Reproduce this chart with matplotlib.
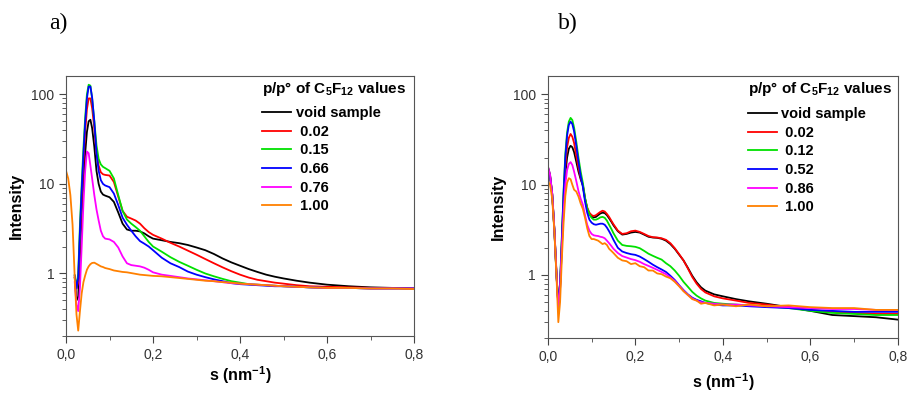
import numpy as np
import matplotlib
matplotlib.use("Agg")
import matplotlib.pyplot as plt

plt.rcParams["font.family"] = ["Liberation Sans", "DejaVu Sans"]
plt.rcParams["mathtext.fontset"] = "custom"
plt.rcParams["mathtext.rm"] = "Liberation Sans"
plt.rcParams["mathtext.bf"] = "Liberation Sans:bold"

# ---- panel a) data (s in nm^-1, intensity) ----
s_a = [0.0, 0.005, 0.01, 0.015, 0.02, 0.024, 0.028, 0.032, 0.036, 0.04, 0.044, 0.048,
       0.052, 0.056, 0.06, 0.065, 0.07, 0.075, 0.08, 0.085, 0.09, 0.1, 0.11, 0.12, 0.13,
       0.14, 0.15, 0.16, 0.17, 0.18, 0.19, 0.2, 0.22, 0.24, 0.26, 0.28, 0.3, 0.32, 0.34,
       0.36, 0.38, 0.4, 0.42, 0.44, 0.46, 0.48, 0.5, 0.53, 0.56, 0.6, 0.65, 0.7, 0.75, 0.8]
nan = np.nan
a_void = [nan, nan, nan, nan, 0.9, 0.5, 0.55, 1.6, 4.5, 10, 22, 38,
          50, 52, 42, 26, 14, 10, 8.2, 7.6, 7.4, 7.1, 6.3, 4.8, 3.6,
          3.1, 3.0, 3.0, 2.95, 2.8, 2.6, 2.45, 2.35, 2.25, 2.18, 2.08, 1.95, 1.82, 1.65,
          1.47, 1.33, 1.22, 1.12, 1.04, 0.97, 0.92, 0.88, 0.83, 0.79, 0.75, 0.72, 0.70, 0.69, 0.68]
a_002 = [nan, nan, nan, nan, 0.9, 0.68, 0.8, 2.5, 7, 17, 38, 68,
         90, 90, 70, 42, 22, 16, 13.5, 12.8, 12.6, 12.4, 10.5, 7.2, 5.0,
         4.3, 4.1, 3.9, 3.6, 3.2, 2.9, 2.7, 2.45, 2.2, 2.0, 1.8, 1.62, 1.45, 1.30,
         1.17, 1.06, 0.97, 0.9, 0.85, 0.82, 0.79, 0.77, 0.74, 0.72, 0.71, 0.70, 0.69, 0.69, 0.68]
a_015 = [nan, nan, nan, nan, 0.95, 0.7, 1.0, 3.5, 10, 25, 55, 100,
         128, 125, 90, 50, 27, 19, 16.5, 15.5, 15, 14, 11.5, 7.5, 5.0,
         4.0, 3.6, 3.3, 3.0, 2.6, 2.25, 2.0, 1.75, 1.52, 1.35, 1.22, 1.1, 1.0, 0.93,
         0.87, 0.82, 0.79, 0.76, 0.75, 0.74, 0.73, 0.72, 0.71, 0.70, 0.69, 0.69, 0.68, 0.68, 0.68]
a_066 = [nan, nan, nan, nan, 0.95, 0.68, 0.9, 3.0, 8.5, 21, 48, 90,
         122, 122, 92, 50, 22, 14, 11, 10, 9.6, 9.2, 7.8, 5.8, 4.2,
         3.5, 3.0, 2.6, 2.3, 2.15, 2.0, 1.82, 1.5, 1.3, 1.18, 1.05, 0.97, 0.91, 0.86,
         0.82, 0.78, 0.76, 0.75, 0.74, 0.73, 0.72, 0.72, 0.71, 0.70, 0.69, 0.69, 0.68, 0.68, 0.68]
a_076 = [nan, nan, nan, nan, 0.8, 0.45, 0.38, 0.7, 2.0, 6, 14, 23,
         22, 16, 11.5, 7.5, 5.2, 3.9, 3.0, 2.6, 2.45, 2.4, 2.25, 1.95, 1.55,
         1.3, 1.24, 1.22, 1.2, 1.16, 1.1, 1.03, 0.97, 0.94, 0.91, 0.88, 0.86, 0.84, 0.82,
         0.80, 0.78, 0.77, 0.76, 0.75, 0.74, 0.73, 0.72, 0.71, 0.70, 0.69, 0.69, 0.68, 0.68, 0.68]
a_100 = [14, 11.5, 7.5, 3.5, 0.9, 0.35, 0.23, 0.38, 0.6, 0.8, 0.95, 1.1,
         1.2, 1.27, 1.31, 1.32, 1.28, 1.24, 1.2, 1.18, 1.15, 1.12, 1.08, 1.06, 1.04,
         1.03, 1.01, 0.99, 0.97, 0.96, 0.95, 0.94, 0.93, 0.91, 0.89, 0.87, 0.85, 0.83, 0.82,
         0.80, 0.79, 0.77, 0.76, 0.75, 0.74, 0.73, 0.72, 0.71, 0.70, 0.69, 0.69, 0.68, 0.68, 0.67]

# ---- panel b) data ----
s_b = [0.0, 0.005, 0.01, 0.015, 0.02, 0.024, 0.028, 0.032, 0.036, 0.04, 0.044, 0.048,
       0.052, 0.056, 0.06, 0.065, 0.07, 0.075, 0.08, 0.085, 0.09, 0.095, 0.1, 0.105,
       0.11, 0.115, 0.12, 0.125, 0.13, 0.135, 0.14, 0.145, 0.15, 0.16, 0.17, 0.18, 0.19,
       0.2, 0.21, 0.22, 0.23, 0.24, 0.25, 0.26, 0.27, 0.28, 0.29, 0.3, 0.31, 0.32, 0.33,
       0.34, 0.35, 0.36, 0.38, 0.4, 0.43, 0.46, 0.5, 0.55, 0.6, 0.65, 0.7, 0.75, 0.8]
b_void = [16, 13, 8, 3.2, 1.0, 0.46, 0.7, 2.0, 6, 13, 20, 25,
          27, 26, 23, 18, 14, 11.5, 9.8, 7.0, 5.4, 4.7, 4.4, 4.35,
          4.4, 4.6, 4.8, 4.9, 4.85, 4.6, 4.25, 3.9, 3.55, 3.05, 2.8, 2.85, 2.95,
          3.0, 2.95, 2.8, 2.65, 2.6, 2.58, 2.52, 2.4, 2.2, 1.95, 1.68, 1.45, 1.2, 0.98,
          0.83, 0.73, 0.67, 0.61, 0.58, 0.54, 0.51, 0.48, 0.44, 0.40, 0.36, 0.35, 0.34, 0.32]
b_002 = [15, 12.5, 7.8, 3.1, 0.95, 0.45, 0.75, 2.3, 7, 16, 26, 33,
         36.5, 34, 29, 21, 15.5, 12, 10, 7.0, 5.6, 4.9, 4.6, 4.5,
         4.6, 4.8, 5.0, 5.15, 5.05, 4.75, 4.4, 4.0, 3.65, 3.1, 2.85, 2.9, 3.05,
         3.1, 3.0, 2.85, 2.7, 2.62, 2.6, 2.55, 2.45, 2.25, 1.98, 1.7, 1.45, 1.18, 0.95,
         0.8, 0.7, 0.64, 0.58, 0.55, 0.52, 0.49, 0.47, 0.44, 0.41, 0.39, 0.38, 0.37, 0.37]
b_012 = [15, 12.5, 7.8, 3.1, 0.95, 0.47, 0.8, 2.6, 8.5, 22, 38, 50,
         55, 52, 43, 30, 20, 14, 10.5, 7.2, 5.5, 4.7, 4.3, 4.1,
         4.1, 4.2, 4.35, 4.4, 4.3, 4.0, 3.6, 3.25, 2.9, 2.4, 2.15, 2.1, 2.08,
         2.05, 1.98, 1.85, 1.72, 1.63, 1.55, 1.48, 1.35, 1.25, 1.12, 0.98, 0.84, 0.74, 0.65,
         0.59, 0.55, 0.52, 0.49, 0.48, 0.47, 0.46, 0.45, 0.43, 0.40, 0.38, 0.37, 0.36, 0.36]
b_052 = [15, 12.5, 7.8, 3.1, 0.95, 0.47, 0.78, 2.5, 8, 20, 35, 46,
         50, 47, 39, 27, 18, 12.5, 9.5, 6.5, 4.9, 4.1, 3.8, 3.65,
         3.6, 3.65, 3.7, 3.7, 3.6, 3.35, 3.05, 2.75, 2.45, 2.0, 1.82, 1.75, 1.7,
         1.67, 1.6, 1.5, 1.4, 1.3, 1.22, 1.15, 1.08, 0.98, 0.88, 0.77, 0.68, 0.61, 0.56,
         0.53, 0.51, 0.49, 0.47, 0.46, 0.46, 0.45, 0.44, 0.43, 0.41, 0.40, 0.39, 0.39, 0.39]
b_086 = [16, 13, 8, 3.2, 1.0, 0.42, 0.7, 2.0, 5, 10, 14.5, 17,
         17.8, 16.5, 14, 11, 8.5, 7.0, 6.0, 4.6, 3.6, 3.1, 2.85, 2.75,
         2.72, 2.7, 2.65, 2.62, 2.55, 2.4, 2.25, 2.1, 1.95, 1.75, 1.62, 1.56, 1.5,
         1.46, 1.4, 1.32, 1.26, 1.2, 1.14, 1.08, 1.02, 0.94, 0.86, 0.76, 0.67, 0.6, 0.55,
         0.52, 0.50, 0.49, 0.48, 0.47, 0.47, 0.46, 0.45, 0.44, 0.43, 0.42, 0.42, 0.41, 0.41]
b_100 = [11, 10, 7, 3.0, 0.9, 0.30, 0.5, 1.5, 3.8, 7.5, 10.5, 11.8,
         11.5, 10, 8.8, 8.4, 7.4, 6.2, 5.4, 4.3, 3.3, 2.7, 2.5, 2.5,
         2.45, 2.4, 2.3, 2.2, 2.25, 2.15, 1.95, 1.85, 1.75, 1.55, 1.45, 1.42, 1.32,
         1.35, 1.25, 1.22, 1.12, 1.12, 1.04, 1.02, 0.96, 0.92, 0.84, 0.75, 0.66, 0.6, 0.54,
         0.52, 0.48, 0.49, 0.46, 0.47, 0.45, 0.47, 0.45, 0.46, 0.44, 0.43, 0.43, 0.41, 0.41]

colors = ["black", "#ff0000", "#00e000", "#0000ff", "#ff00ff", "#ff8000"]
labels_a = ["void sample", " 0.02", " 0.15", " 0.66", " 0.76", " 1.00"]
labels_b = ["void sample", " 0.02", " 0.12", " 0.52", " 0.86", " 1.00"]
x_ticks = [0.0, 0.2, 0.4, 0.6, 0.8]
x_tick_labels = ["0,0", "0,2", "0,4", "0,6", "0,8"]
y_ticks = [1, 10, 100]
y_tick_labels = ["1", "10", "100"]
legend_title = r"p/p° of C$_\mathbf{5}$F$_\mathbf{12}$ values"

fig = plt.figure(figsize=(9.07, 3.94), dpi=100)
ax_a = fig.add_axes([0.0728, 0.147, 0.3837, 0.660])
ax_b = fig.add_axes([0.604, 0.142, 0.386, 0.665])


def draw_panel(ax, s, curves, labels, xlabelpad, leg_x, leg_y):
    for y, c, lab in zip(curves, colors, labels):
        ax.plot(s, y, color=c, lw=1.3, label=lab)
    ax.set_yscale("log")
    ax.set_xlim(0, 0.8)
    ax.set_ylim(0.2, 160)
    ax.set_xticks(x_ticks)
    ax.set_xticklabels(x_tick_labels)
    ax.set_xticks(np.arange(0.1, 0.8, 0.2), minor=True)
    ax.set_yticks(y_ticks)
    ax.set_yticklabels(y_tick_labels)
    ax.tick_params(which="both", direction="out", top=False, right=False,
                   labelsize=10, labelcolor="#333333", color="#444444")
    ax.tick_params(which="major", length=5)
    ax.tick_params(which="minor", length=3)
    for sp in ax.spines.values():
        sp.set_color("#555555")
    ax.set_ylabel("Intensity", fontsize=11.5, fontweight="bold", labelpad=5)
    ax.set_xlabel(r"s (nm$^{\mathbf{-1}}$)", fontsize=11.5, fontweight="bold",
                  labelpad=xlabelpad)
    ax.text(leg_x, 0.95, legend_title, transform=ax.transAxes, fontsize=11,
            fontweight="bold", ha="left", va="center")
    ax.legend(loc="upper left", bbox_to_anchor=(leg_x, leg_y), frameon=False,
              prop={"weight": "bold", "size": 10.5}, handlelength=2.0,
              handletextpad=0.3, labelspacing=0.32, borderaxespad=0,
              borderpad=0)


draw_panel(ax_a, s_a, [a_void, a_002, a_015, a_066, a_076, a_100], labels_a, 2, 0.563, 0.885)
draw_panel(ax_b, s_b, [b_void, b_002, b_012, b_052, b_086, b_100], labels_b, 5, 0.571, 0.882)

fig.text(0.064, 0.94, "a)", family="Liberation Serif", fontsize=17, ha="center", va="center")
fig.text(0.626, 0.94, "b)", family="Liberation Serif", fontsize=17, ha="center", va="center")

fig.savefig("out.png", dpi=100)
